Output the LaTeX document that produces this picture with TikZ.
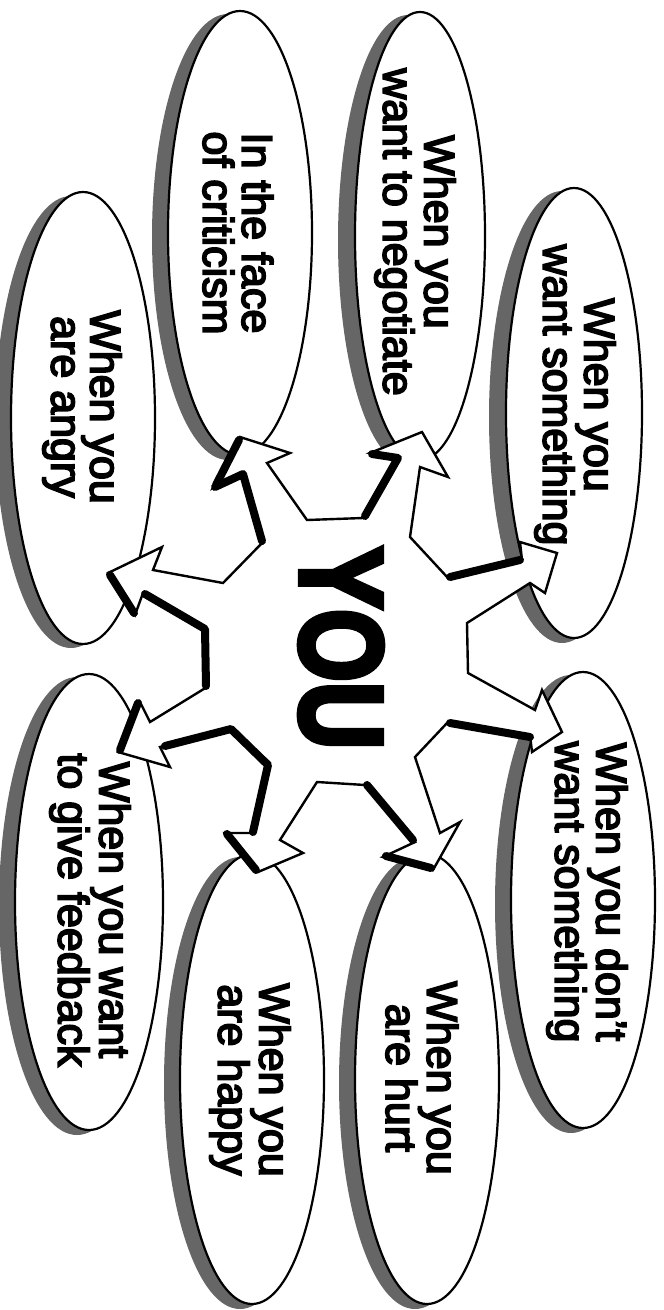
\documentclass[tikz,border=0pt]{standalone}
\usepackage{fontspec}
\setmainfont{Liberation Sans}
\newfontfamily\bubblefont[FakeBold=4]{Liberation Sans}
\newfontfamily\youfont[FakeBold=5]{Liberation Sans}
\usepackage{graphicx}
\usetikzlibrary{shapes.geometric}
\tikzset{
  bubble/.style={ellipse, draw=black, line width=2.2pt, fill=white, rotate=-90, inner sep=0pt},
  bubbleshadow/.style={ellipse, fill=black!60, rotate=-90, inner sep=0pt},
  bubbletext/.style={rotate=-90, align=center, inner sep=0pt, font=\bubblefont\fontsize{43}{39}\selectfont},
  starline/.style={draw=black, line width=2.4pt, fill=white, line join=miter},
  thickedge/.style={line width=8pt, line cap=round, line join=round},
  youtext/.style={rotate=-90, inner sep=0pt, font=\youfont\bfseries\fontsize{117}{117}\selectfont},
}
\begin{document}
\begin{tikzpicture}[x=1pt,y=-1pt]
\useasboundingbox (0,0) rectangle (664,1310);
% shadows
\node[bubbleshadow, minimum width=452pt, minimum height=152pt] (s1) at (71,422) {};
\node[bubbleshadow, minimum width=446pt, minimum height=152pt] (s2) at (228,237) {};
\node[bubbleshadow, minimum width=450pt, minimum height=140pt] (s3) at (408,240) {};
\node[bubbleshadow, minimum width=452pt, minimum height=146pt] (s4) at (562,417) {};
\node[bubbleshadow, minimum width=458pt, minimum height=156pt] (s5) at (77,906) {};
\node[bubbleshadow, minimum width=452pt, minimum height=152pt] (s6) at (240,1083) {};
\node[bubbleshadow, minimum width=452pt, minimum height=152pt] (s7) at (415,1083) {};
\node[bubbleshadow, minimum width=458pt, minimum height=152pt] (s8) at (571,904) {};
% bubbles
\node[bubble, minimum width=452pt, minimum height=144pt] (e1) at (83,418) {};
\node[bubble, minimum width=444pt, minimum height=144pt] (e2) at (240,233) {};
\node[bubble, minimum width=448pt, minimum height=130pt] (e3) at (420,236) {};
\node[bubble, minimum width=450pt, minimum height=136pt] (e4) at (574,413) {};
\node[bubble, minimum width=456pt, minimum height=148pt] (e5) at (89,902) {};
\node[bubble, minimum width=450pt, minimum height=144pt] (e6) at (252,1079) {};
\node[bubble, minimum width=450pt, minimum height=144pt] (e7) at (427,1079) {};
\node[bubble, minimum width=456pt, minimum height=144pt] (e8) at (583,900) {};
% texts
\node[bubbletext] (t1) at (82,407) {When you\\are angry};
\node[bubbletext] (t2) at (238,233) {In the face\\of criticism};
\node[bubbletext] (t3) at (415,232) {When you\\want to negotiate};
\node[bubbletext] (t4) at (575,395) {When you\\want something};
\node[bubbletext] (t5) at (90,910) {When you want\\to give feedback};
\node[bubbletext] (t6) at (250,1080) {When you\\are happy};
\node[bubbletext] (t7) at (422,1078) {When you\\are hurt};
\node[bubbletext] (t8) at (587,892) {When you don’t\\want something};
% star with arrows
\path[starline] (307,520) -- (363,518) -- (398,458) -- (370,453) -- (422,432)
  -- (448,477) -- (420,467) -- (410,537) -- (448,578) -- (522,560)
  -- (520,542) -- (557,553) -- (545,593) -- (530,583) -- (467,623)
  -- (468,673) -- (535,710) -- (542,690) -- (562,732) -- (532,752)
  -- (530,735) -- (448,722) -- (415,757) -- (440,833) -- (460,822)
  -- (433,870) -- (383,857) -- (415,842) -- (365,785) -- (317,782)
  -- (280,840) -- (303,853) -- (258,872) -- (225,833) -- (255,833)
  -- (270,763) -- (230,727) -- (160,747) -- (170,767) -- (118,752)
  -- (140,702) -- (150,722) -- (207,687) -- (205,628) -- (143,593)
  -- (135,615) -- (108,573) -- (162,547) -- (153,570) -- (223,583)
  -- (263,542) -- (243,473) -- (213,488) -- (240,437) -- (290,453)
  -- (267,463) -- cycle;
% heavy edges
\draw[thickedge] (365,516) -- (398,458) -- (372,454);
\draw[thickedge] (450,577) -- (520,560);
\draw[thickedge] (530,737) -- (450,723);
\draw[thickedge] (431,868) -- (386,856);
\draw[thickedge] (413,840) -- (367,785);
\draw[thickedge] (256,870) -- (227,834);
\draw[thickedge] (253,832) -- (268,765) -- (231,729) -- (165,746);
\draw[thickedge] (138,703) -- (120,750);
\draw[thickedge] (206,686) -- (205,629) -- (145,594);
\draw[thickedge] (134,613) -- (110,575);
\draw[thickedge] (262,541) -- (243,474) -- (215,487);
\draw[thickedge] (216,485) -- (239,440);
% centre text
\node[youtext] (you) at (341,648) {\scalebox{0.8}[1]{YOU}};
\end{tikzpicture}
\end{document}
